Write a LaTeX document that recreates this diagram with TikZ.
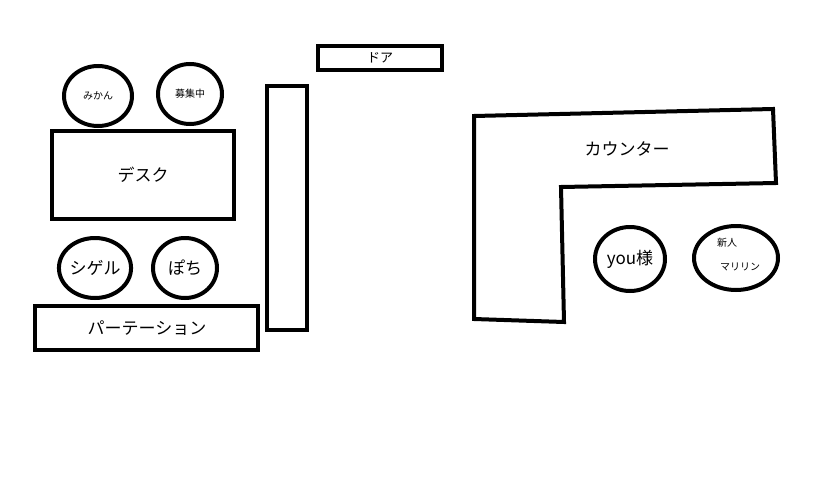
\documentclass[tikz,border=0pt]{standalone}
\usepackage{fontspec}
\setmainfont{Noto Sans CJK JP}
\usetikzlibrary{shapes.geometric}
\tikzset{
  wall/.style={draw,line width=4pt},
  seat/.style={draw,line width=4pt,ellipse,inner sep=0pt},
  big/.style={font=\fontsize{17}{19}\selectfont},
  small/.style={font=\fontsize{10}{12}\selectfont}
}
\begin{document}
\begin{tikzpicture}[x=1pt,y=-1pt]
\useasboundingbox[fill=white] (0,0) rectangle (816,482);
% door
\draw[wall] (318,46) rectangle (442,70);
\node[font=\fontsize{13}{14}\selectfont] (door) at (380,58) {ドア};
% seats by the desk
\node[seat,minimum width=68pt,minimum height=60pt,small] (mikan) at (98,96) {みかん};
\node[seat,minimum width=64pt,minimum height=60pt,small] (boshu) at (190,94) {募集中};
% desk
\draw[wall] (52,131) rectangle (234,219);
\node[big] (desk) at (143,175) {デスク};
\node[seat,minimum width=66pt,minimum height=60pt,big] (shigeru) at (95,268) {シゲル};
\node[seat,minimum width=64pt,minimum height=60pt,big] (pochi) at (185,268) {ぽち};
% partition
\draw[wall] (35,306) rectangle (258,350);
\node[big] (part) at (147,328) {パーテーション};
% pillar
\draw[wall] (267,86) rectangle (307,330);
% counter
\draw[wall,line join=miter] (474,116) -- (773,109) -- (776,183) -- (561,187) -- (564,322) -- (474,319) -- cycle;
\node[big] (counter) at (627,149) {カウンター};
\node[seat,minimum width=70pt,minimum height=64pt,big] (you) at (630,259) {you様};
\node[seat,minimum width=84pt,minimum height=64pt] (shinjin) at (736,258) {};
\node[small] (shin) at (727,243) {新人};
\node[small] (mari) at (740,267) {マリリン};
\end{tikzpicture}
\end{document}
